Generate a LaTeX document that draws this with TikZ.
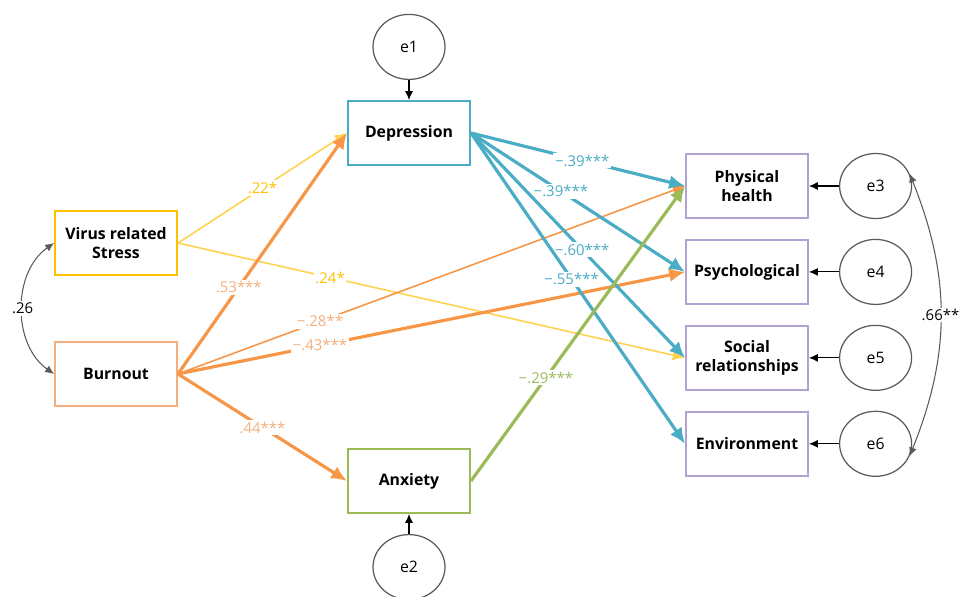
\documentclass[tikz,border=0pt]{standalone}
\usepackage{fontspec}
\setmainfont{Open Sans}
\usepackage{tikz}
\usetikzlibrary{positioning,arrows.meta,shapes.geometric}
\definecolor{virusyellow}{RGB}{255, 192, 0}
\definecolor{viruslight}{RGB}{255, 210, 80}
\definecolor{burnorange}{RGB}{247, 150, 70}
\definecolor{burnlight}{RGB}{245, 175, 125}
\definecolor{depblue}{RGB}{75, 172, 198}
\definecolor{anxgreen}{RGB}{155, 187, 89}
\definecolor{qolpurple}{RGB}{178, 162, 210}
\definecolor{errgray}{RGB}{90, 90, 90}

\begin{document}
\begin{tikzpicture}[
    node distance=0.4cm and 0.6cm,
    factor/.style={rectangle, draw, line width=1.1pt, fill=white,
                   minimum width=2.44cm, minimum height=1.28cm, align=center,
                   font=\fontsize{9}{10.5}\selectfont\bfseries},
    errterm/.style={ellipse, draw=errgray, line width=0.7pt, fill=white,
                    minimum width=1.44cm, minimum height=1.3cm,
                    font=\fontsize{9}{10.5}\selectfont},
    thinpath/.style={line width=0.9pt, -{Latex[length=7pt, width=6pt]}},
    thickpath/.style={line width=1.8pt, -{Latex[length=9pt, width=8pt]}},
    coef/.style={font=\fontsize{8.5}{10}\selectfont, fill=white, inner sep=1pt},
    resid/.style={-{Latex[length=5pt, width=4.5pt]}, line width=0.6pt, black},
    cov/.style={{Latex[length=5pt, width=4.5pt]}-{Latex[length=5pt, width=4.5pt]},
                line width=0.6pt, errgray}
]
    \useasboundingbox (0,0) rectangle (19.28,-11.92);

    % Predictors (left column)
    \node[factor, draw=virusyellow] (virus) at (2.32,-4.86) {Virus related\\Stress};
    \node[factor, draw=burnlight, below=1.3cm of virus] (burnout) {Burnout};

    % Mediators
    \node[factor, draw=depblue] (depression) at (8.18,-2.66) {Depression};
    \node[factor, draw=anxgreen] (anxiety) at (8.18,-9.62) {Anxiety};
    \node[errterm, above=of depression] (e1) {e1};
    \node[errterm, below=of anxiety] (e2) {e2};

    % Outcomes (right column)
    \node[factor, draw=qolpurple] (physical) at (14.94,-3.72) {Physical\\health};
    \node[factor, draw=qolpurple, below=of physical] (psych) {Psychological};
    \node[factor, draw=qolpurple, below=of psych] (social) {Social\\relationships};
    \node[factor, draw=qolpurple, below=of social] (environ) {Environment};
    \node[errterm, right=of physical] (e3) {e3};
    \node[errterm, right=of psych] (e4) {e4};
    \node[errterm, right=of social] (e5) {e5};
    \node[errterm, right=of environ] (e6) {e6};

    % Residual arrows
    \draw[resid] (e1) -- (depression);
    \draw[resid] (e2) -- (anxiety);
    \draw[resid] (e3) -- (physical);
    \draw[resid] (e4) -- (psych);
    \draw[resid] (e5) -- (social);
    \draw[resid] (e6) -- (environ);

    % Virus related stress paths
    \draw[thinpath, viruslight] (virus.east) -- node[coef, text=virusyellow, pos=0.5]{.22*} (depression.west);
    \draw[thinpath, viruslight] (virus.east) -- node[coef, text=virusyellow, pos=0.3]{.24*} (social.west);

    % Burnout paths
    \draw[thickpath, burnorange] (burnout.east) -- node[coef, text=burnlight, pos=0.36]{.53***} (depression.west);
    \draw[thinpath, burnorange] (burnout.east) -- node[coef, text=burnlight, pos=0.28]{−.28**} (physical.west);
    \draw[thickpath, burnorange] (burnout.east) -- node[coef, text=burnlight, pos=0.28]{−.43***} (psych.west);
    \draw[thickpath, burnorange] (burnout.east) -- node[coef, text=burnlight, pos=0.5]{.44***} (anxiety.west);

    % Depression paths
    \draw[thickpath, depblue] (depression.east) -- node[coef, text=depblue, pos=0.52]{−.39***} (physical.west);
    \draw[thickpath, depblue] (depression.east) -- node[coef, text=depblue, pos=0.42]{−.39***} (psych.west);
    \draw[thickpath, depblue] (depression.east) -- node[coef, text=depblue, pos=0.52]{−.60***} (social.west);
    \draw[thickpath, depblue] (depression.east) -- node[coef, text=depblue, pos=0.47]{−.55***} (environ.west);

    % Anxiety path
    \draw[thickpath, anxgreen] (anxiety.east) -- node[coef, text=anxgreen, pos=0.35]{−.29***} (physical.west);

    % Covariances
    \draw[cov] (virus.west) to[bend right=55] node[coef, text=black]{.26} (burnout.west);
    \draw[cov] (e3.20) to[bend left=22] node[coef, text=black, inner sep=0.5pt]{.66**} (e6.-20);
\end{tikzpicture}
\end{document}
